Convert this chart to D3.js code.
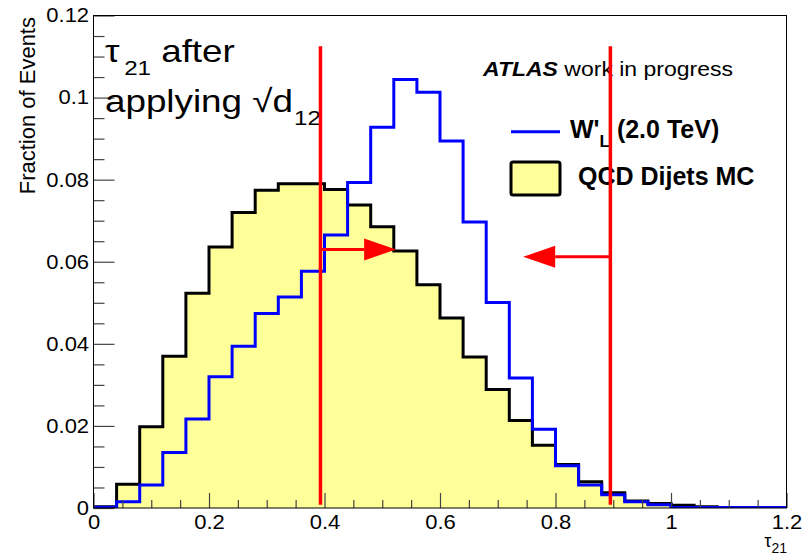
<!DOCTYPE html>
<html>
<head>
<meta charset="utf-8">
<script src="https://cdnjs.cloudflare.com/ajax/libs/d3/7.8.5/d3.min.js"></script>
<style>
  html, body { margin:0; padding:0; background:#fff; }
  svg { display:block; font-family:"Liberation Sans", Arial, Helvetica, sans-serif; }
  .axis path.domain { display:none; }
  .axis line { stroke:#444; stroke-width:1.2; }
  .axis text { font-size:20px; fill:#000; font-family:"Liberation Sans", Arial, sans-serif; }
</style>
</head>
<body>
<svg width="812" height="557"></svg>
<script>
// tau21 bins (0 .. 1.2, 30 bins)
var binEdges = [0, 0.04, 0.08, 0.12, 0.16, 0.2, 0.24, 0.28, 0.32, 0.36, 0.4,
                0.44, 0.48, 0.52, 0.56, 0.6, 0.64, 0.68, 0.72, 0.76, 0.8,
                0.84, 0.88, 0.92, 0.96, 1.0, 1.04, 1.08, 1.12, 1.16, 1.2];

var qcdDijets = [0.0003, 0.0058, 0.0198, 0.0370, 0.0523, 0.0636, 0.0720, 0.0774, 0.0790, 0.0790,
                 0.0776, 0.0738, 0.0685, 0.0626, 0.0544, 0.0463, 0.0368, 0.0289, 0.0213, 0.0153,
                 0.0106, 0.0064, 0.0037, 0.0017, 0.0011, 0.0007, 0.0003, 0, 0, 0];

var wPrime = [0.0002, 0.0015, 0.0056, 0.0135, 0.0217, 0.0320, 0.0394, 0.0474, 0.0514, 0.0577,
              0.0665, 0.0793, 0.0928, 0.1044, 0.1013, 0.0894, 0.0697, 0.0501, 0.0317, 0.0192,
              0.0103, 0.0056, 0.0032, 0.0015, 0.0008, 0.0001, 0.0001, 0.0001, 0.0001, 0.0001];

var xTickValues = [0, 0.2, 0.4, 0.6, 0.8, 1, 1.2];
var xTickLabels = ["0", "0.2", "0.4", "0.6", "0.8", "1", "1.2"];
var yTickValues = [0, 0.02, 0.04, 0.06, 0.08, 0.1, 0.12];
var yTickLabels = ["0", "0.02", "0.04", "0.06", "0.08", "0.1", "0.12"];

// cut window and arrows
var cutValues = [0.393, 0.895];
var cutTop = 0.1125;
var cutArrows = [
  {from: 0.393, to: 0.524, level: 0.0630},
  {from: 0.895, to: 0.744, level: 0.0612}
];

var svg = d3.select("svg");
var frameL = 93.5, frameR = 786.5, frameT = 15.5, frameB = 508;

var x = d3.scaleLinear().domain([0, 1.2]).range([frameL, frameR]);
var y = d3.scaleLinear().domain([0, 0.12]).range([frameB, frameT]);

svg.append("defs").append("clipPath").attr("id", "plot")
  .append("rect").attr("x", frameL).attr("y", frameT)
  .attr("width", frameR - frameL).attr("height", frameB - frameT);

function stepPoints(vals) {
  var pts = [[binEdges[0], 0]];
  vals.forEach(function(v, i) {
    pts.push([binEdges[i], v]);
    pts.push([binEdges[i + 1], v]);
  });
  pts.push([binEdges[binEdges.length - 1], 0]);
  return pts;
}
var line = d3.line().x(function(d) { return x(d[0]); }).y(function(d) { return y(d[1]); });

var plot = svg.append("g").attr("clip-path", "url(#plot)");

// QCD fill
plot.append("path")
  .attr("d", line(stepPoints(qcdDijets)) + "Z")
  .attr("fill", "#ffff99")
  .attr("stroke", "none");

// axes (ticks inside the frame, ROOT style)
var xMinor = d3.range(0, 1.2001, 0.05).filter(function(v) { return Math.abs(v / 0.2 - Math.round(v / 0.2)) > 1e-6; });
var yMinor = d3.range(0, 0.1201, 0.005).filter(function(v) { return Math.abs(v / 0.02 - Math.round(v / 0.02)) > 1e-6; });

svg.append("g").attr("class", "axis")
  .attr("transform", "translate(0," + frameB + ")")
  .call(d3.axisBottom(x).tickValues(xMinor).tickSize(-8).tickFormat(""));
var gx = svg.append("g").attr("class", "axis")
  .attr("transform", "translate(0," + frameB + ")")
  .call(d3.axisBottom(x).tickValues(xTickValues).tickSize(-15).tickPadding(7)
    .tickFormat(function(d, i) { return xTickLabels[i]; }));

svg.append("g").attr("class", "axis")
  .attr("transform", "translate(" + frameL + ",0)")
  .call(d3.axisLeft(y).tickValues(yMinor).tickSize(-11).tickFormat(""));
var gy = svg.append("g").attr("class", "axis")
  .attr("transform", "translate(" + frameL + ",0)")
  .call(d3.axisLeft(y).tickValues(yTickValues).tickSize(-21).tickPadding(4)
    .tickFormat(function(d, i) { return yTickLabels[i]; }));

gx.selectAll("text").attr("transform", "scale(1.1,1)");
gy.selectAll("text").attr("transform", "scale(1.1,1)");

// histogram outlines
plot.append("path")
  .attr("d", line(stepPoints(qcdDijets)))
  .attr("fill", "none").attr("stroke", "#000").attr("stroke-width", 3);
plot.append("path")
  .attr("d", line(stepPoints(wPrime)))
  .attr("fill", "none").attr("stroke", "#0000ff").attr("stroke-width", 3);

// text helper with sub-scripts and horizontal stretch
function richText(x0, y0, opts, parts) {
  var g = svg.append("g").attr("transform", "translate(" + x0 + "," + y0 + ") scale(" + (opts.sx || 1) + ",1)");
  var t = g.append("text")
    .attr("font-size", opts.size)
    .attr("font-weight", opts.weight || "normal")
    .attr("text-anchor", opts.anchor || "start");
  var shift = 0;
  parts.forEach(function(p) {
    var target = p.sub ? opts.subShift : 0;
    var s = t.append("tspan").text(p.text).attr("dy", target - shift);
    shift = target;
    if (p.dx) s.attr("dx", p.dx);
    if (p.sub) s.attr("font-size", opts.subSize);
    if (p.style) s.attr("font-style", p.style);
    if (p.weight) s.attr("font-weight", p.weight);
  });
  return g;
}

// labels
richText(105, 62, {size: 32, sx: 1.15, subSize: 21, subShift: 13},
  [{text: "τ"}, {text: "21", sub: true, dx: 4}, {text: " after"}]);
richText(105, 112, {size: 32, sx: 1.15, subSize: 21, subShift: 13},
  [{text: "applying √d"}, {text: "12", sub: true, dx: 1}]);

richText(483, 76, {size: 20, sx: 1.15},
  [{text: "ATLAS", weight: "bold", style: "italic"}, {text: " work in progress"}]);

// legend
svg.append("line").attr("x1", 511).attr("x2", 560).attr("y1", 131.7).attr("y2", 131.7)
  .attr("stroke", "#0000ff").attr("stroke-width", 3);
richText(570, 137.5, {size: 25, weight: "bold", subSize: 17, subShift: 9},
  [{text: "W'"}, {text: "L", sub: true}, {text: " (2.0 TeV)"}]);
svg.append("rect").attr("x", 511).attr("y", 162).attr("width", 49).attr("height", 33).attr("rx", 2)
  .attr("fill", "#ffff99").attr("stroke", "#000").attr("stroke-width", 3);
richText(578, 185, {size: 25, weight: "bold"}, [{text: "QCD Dijets MC"}]);

// axis titles
svg.append("text")
  .attr("transform", "translate(35,17) rotate(-90)")
  .attr("text-anchor", "end")
  .attr("font-size", 22)
  .text("Fraction of Events");
richText(787, 547, {size: 18, anchor: "end", subSize: 14, subShift: 6},
  [{text: "τ"}, {text: "21", sub: true}]);

// cut lines and arrows
svg.selectAll(".cut").data(cutValues).enter().append("line")
  .attr("class", "cut")
  .attr("x1", function(d) { return x(d); }).attr("x2", function(d) { return x(d); })
  .attr("y1", y(cutTop)).attr("y2", y(0.0008))
  .attr("stroke", "#ff0000").attr("stroke-width", 3.5);

var headLen = 32, headHalf = 11;
cutArrows.forEach(function(a) {
  var dir = a.to > a.from ? 1 : -1;
  var tip = x(a.to), base = tip - dir * headLen, yy = y(a.level);
  svg.append("line").attr("x1", x(a.from)).attr("x2", base).attr("y1", yy).attr("y2", yy)
    .attr("stroke", "#ff0000").attr("stroke-width", 3);
  svg.append("path")
    .attr("d", "M" + tip + "," + yy + "L" + base + "," + (yy - headHalf) + "L" + base + "," + (yy + headHalf) + "Z")
    .attr("fill", "#ff0000");
});

// frame
svg.append("rect").attr("x", frameL).attr("y", frameT)
  .attr("width", frameR - frameL).attr("height", frameB - frameT)
  .attr("fill", "none").attr("stroke", "#000").attr("stroke-width", 1);
</script>
</body>
</html>
